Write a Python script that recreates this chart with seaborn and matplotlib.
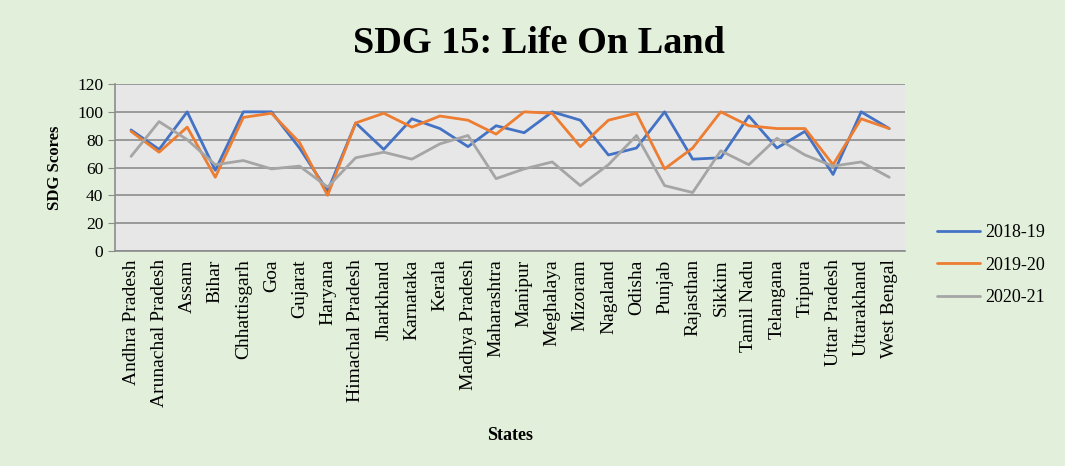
import pandas as pd
import matplotlib.pyplot as plt
import seaborn as sns

# -------------------------------
# Data
# -------------------------------
states = ["Andhra Pradesh", "Arunachal Pradesh", "Assam", "Bihar", "Chhattisgarh",
          "Goa", "Gujarat", "Haryana", "Himachal Pradesh", "Jharkhand", "Karnataka",
          "Kerala", "Madhya Pradesh", "Maharashtra", "Manipur", "Meghalaya", "Mizoram",
          "Nagaland", "Odisha", "Punjab", "Rajasthan", "Sikkim", "Tamil Nadu",
          "Telangana", "Tripura", "Uttar Pradesh", "Uttarakhand", "West Bengal"]

score_2018 = [87, 73, 100, 58, 100, 100, 74, 43, 92, 73, 95, 88, 75, 90,
              85, 100, 94, 69, 74, 100, 66, 67, 97, 74, 86, 55, 100, 88]
score_2019 = [86, 71, 89, 53, 96, 99, 78, 40, 92, 99, 89, 97, 94, 84,
              100, 99, 75, 94, 99, 59, 74, 100, 90, 88, 88, 62, 95, 88]
score_2020 = [68, 93, 80, 62, 65, 59, 61, 46, 67, 71, 66, 77, 83, 52,
              59, 64, 47, 62, 83, 47, 42, 72, 62, 81, 69, 61, 64, 53]

years = ["2018-19", "2019-20", "2020-21"]
colors = ["#4472C4", "#ED7D31", "#A5A5A5"]

df = pd.DataFrame({
    "State": states * 3,
    "Score": score_2018 + score_2019 + score_2020,
    "Year": [y for y in years for _ in states],
})

# -------------------------------
# Plot
# -------------------------------
sns.set_style("white")
plt.rcParams["font.family"] = ["Liberation Serif", "DejaVu Serif"]
plt.rcParams["text.color"] = "black"
plt.rcParams["axes.labelcolor"] = "black"
plt.rcParams["xtick.color"] = "black"
plt.rcParams["ytick.color"] = "black"

bg = "#E2EFDA"
fig = plt.figure(figsize=(10.65, 4.66), dpi=100, facecolor=bg)
ax = fig.add_axes([0.108, 0.4614, 0.742, 0.3583])
ax.set_facecolor("#E7E7E7")

sns.lineplot(data=df, x="State", y="Score", hue="Year", palette=colors,
             sort=False, linewidth=2.0, ax=ax)

ax.set_ylim(0, 120)
ax.set_yticks(range(0, 121, 20))
ax.set_xlim(-0.57, len(states) - 0.43)
ax.yaxis.grid(True, color="#8C8C8C", linewidth=1.2)
ax.set_axisbelow(True)
for side in ["top", "right"]:
    ax.spines[side].set_visible(False)
for side in ["left", "bottom"]:
    ax.spines[side].set_color("#8C8C8C")
    ax.spines[side].set_linewidth(1.2)

ax.tick_params(axis="y", labelsize=12.5, length=5, color="#8C8C8C", labelcolor="black",
               direction="out", left=True)
ax.tick_params(axis="x", labelsize=14, length=0, pad=6, labelcolor="black")
plt.setp(ax.get_xticklabels(), rotation=90)

ax.set_xlabel("States", fontsize=13, fontweight="bold", labelpad=14)
ax.set_ylabel("SDG Scores", fontsize=12, fontweight="bold", labelpad=10)
fig.suptitle("SDG 15: Life On Land", fontsize=27.5, fontweight="bold", x=0.506, y=0.945)

ax.legend(loc="center left", bbox_to_anchor=(1.019, -0.085), frameon=False,
          fontsize=13, handlelength=2.4, labelspacing=0.85, handletextpad=0.3)
for line in ax.get_legend().get_lines():
    line.set_linewidth(2.0)

plt.savefig("out.png", dpi=100, facecolor=bg)
